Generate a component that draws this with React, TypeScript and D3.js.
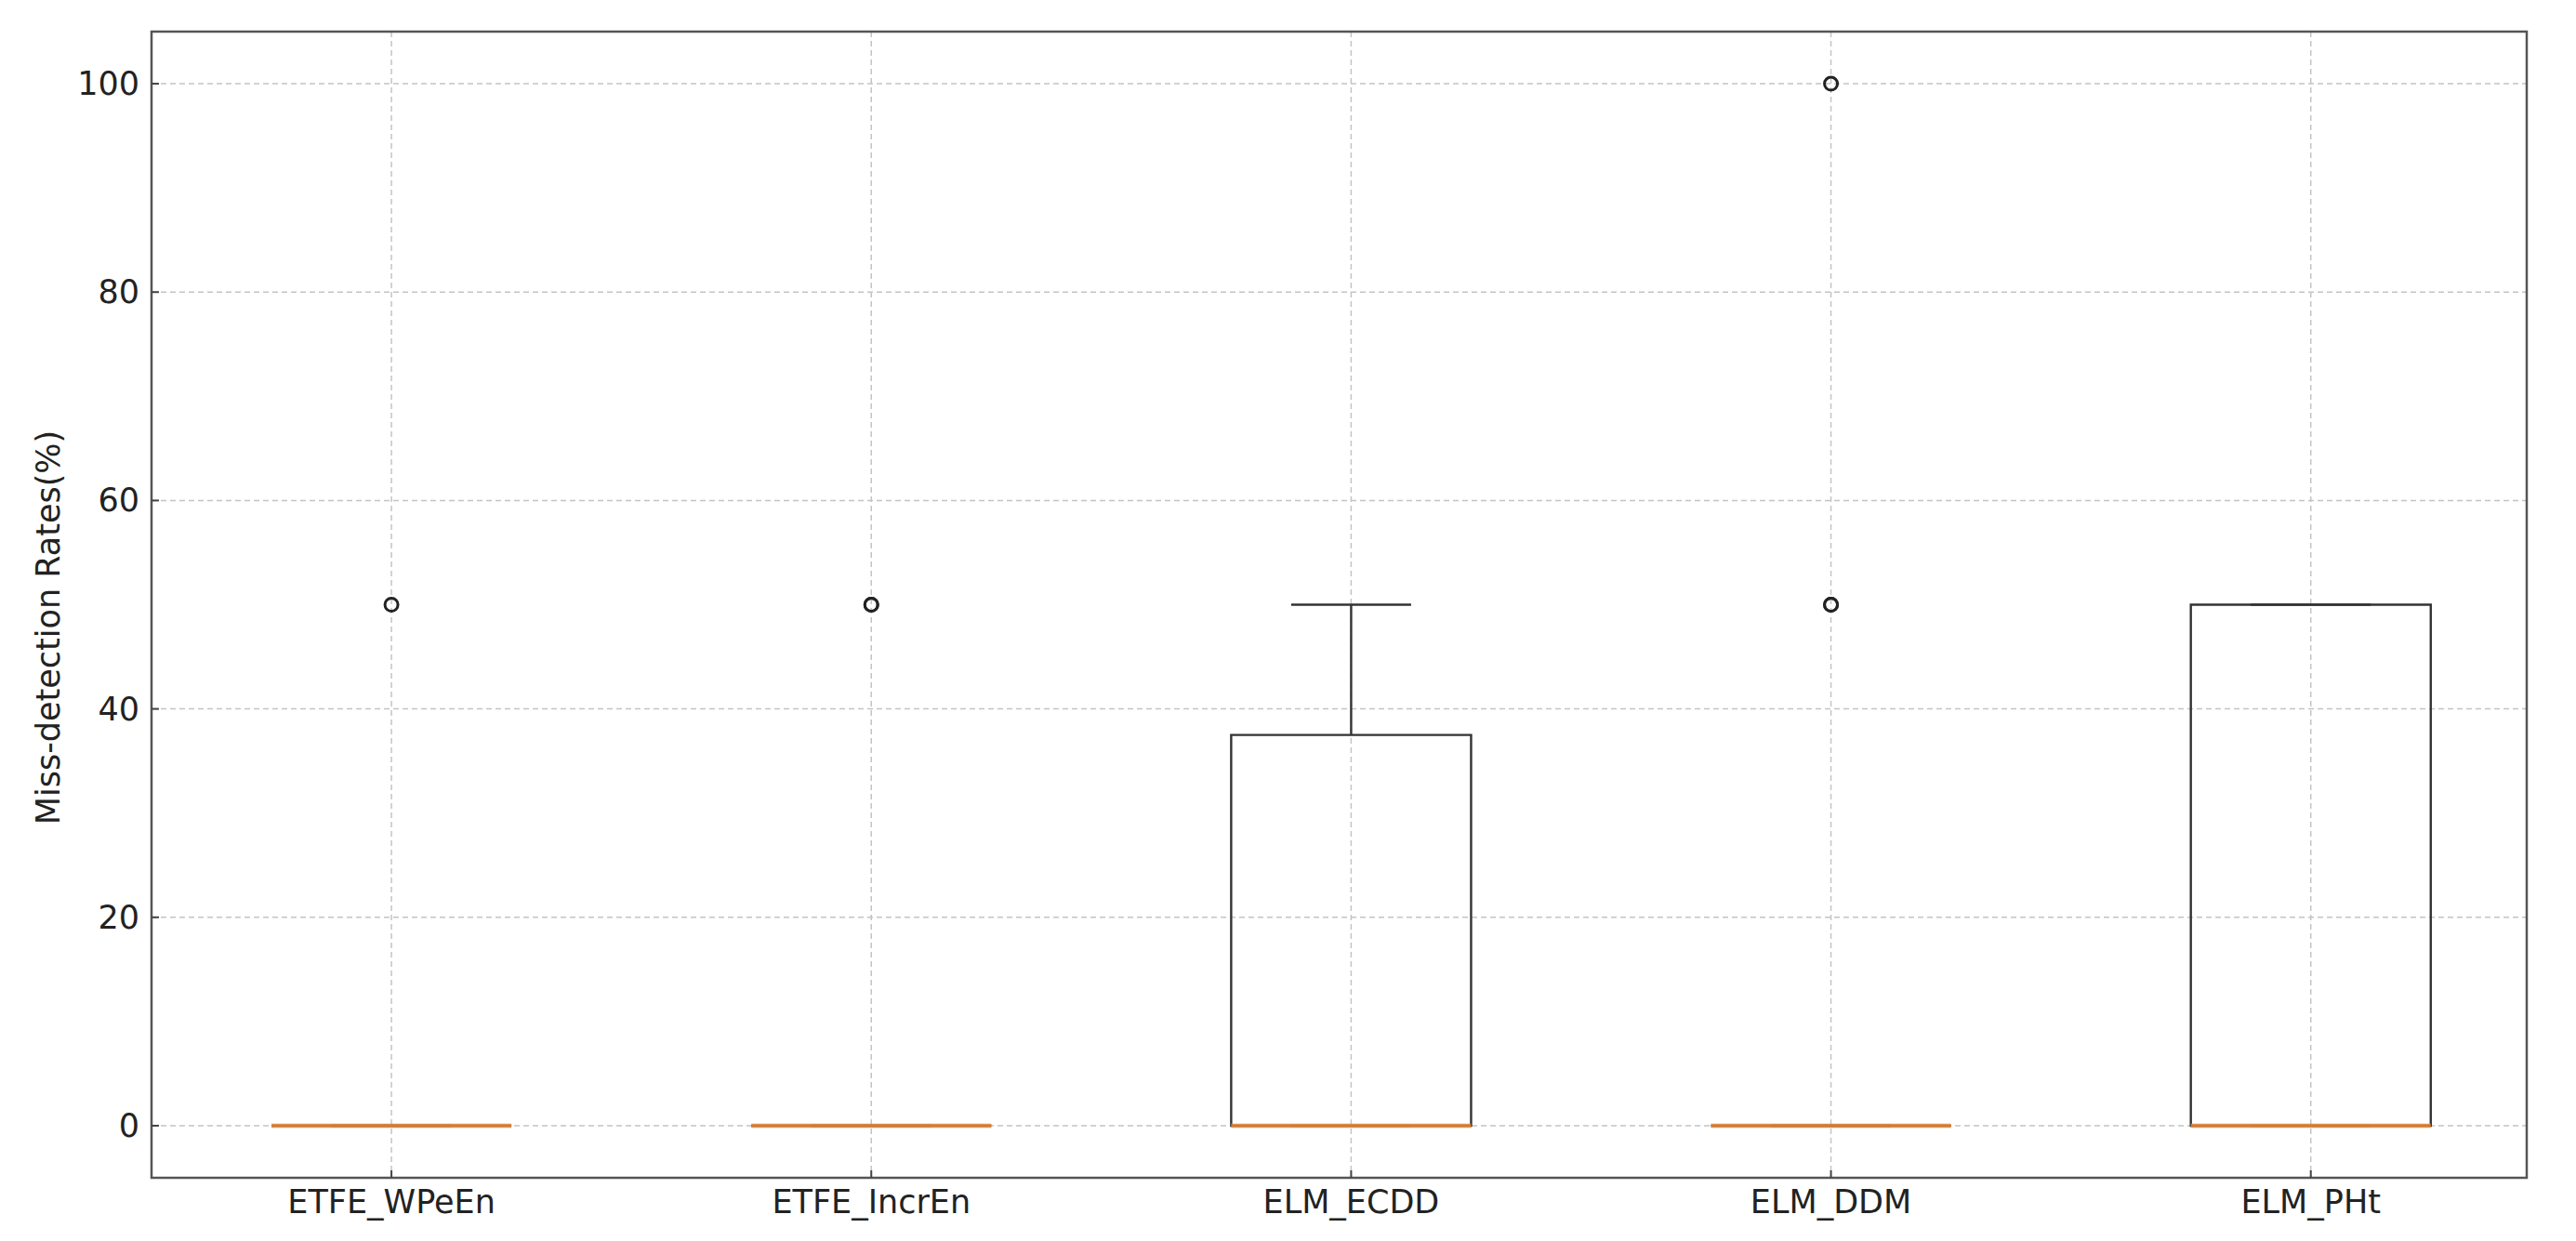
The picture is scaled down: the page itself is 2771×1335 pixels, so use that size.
import { useEffect, useRef } from "react"
import * as d3 from "d3"

const categories = ["ETFE_WPeEn", "ETFE_IncrEn", "ELM_ECDD", "ELM_DDM", "ELM_PHt"]
const q1 = [0, 0, 0, 0, 0]
const medians = [0, 0, 0, 0, 0]
const q3 = [0, 0, 37.5, 0, 50]
const whiskerLo = [0, 0, 0, 0, 0]
const whiskerHi = [0, 0, 50, 0, 50]
const outliers = [[50], [50, 50], [], [50, 50, 100], []]
const yTicks = [0, 20, 40, 60, 80, 100]

export default function App() {
    const ref = useRef<SVGSVGElement>(null)

    useEffect(() => {
        document.body.style.margin = "0"
        const width = 2771
        const height = 1335
        const plot = { left: 163, right: 2718, top: 34, bottom: 1267 }
        const font = "'DejaVu Sans', sans-serif"
        const lineColor = "#333"
        const boxWidth = 0.5

        const x = d3.scaleLinear().domain([0.5, 5.45]).range([plot.left, plot.right])
        const y = d3.scaleLinear().domain([-5, 105]).range([plot.bottom, plot.top])
        const positions = categories.map((_, i) => i + 1)
        const half = (x(1 + boxWidth / 2) - x(1))

        const svg = d3.select(ref.current)
        svg.selectAll("*").remove()
        svg.attr("width", width).attr("height", height).style("display", "block")
            .style("background", "#fff")

        // grid
        const grid = svg.append("g")
            .attr("stroke", "#c4c4c4")
            .attr("stroke-width", 1.5)
            .attr("stroke-dasharray", "6,4")
        grid.selectAll("line.gy").data(yTicks).join("line")
            .attr("x1", plot.left).attr("x2", plot.right)
            .attr("y1", d => y(d)).attr("y2", d => y(d))
        grid.selectAll("line.gx").data(positions).join("line")
            .attr("class", "gx")
            .attr("x1", d => x(d)).attr("x2", d => x(d))
            .attr("y1", plot.top).attr("y2", plot.bottom)

        const boxes = svg.append("g")
            .attr("fill", "none")
            .attr("stroke", lineColor)
            .attr("stroke-width", 2.4)

        categories.forEach((_, i) => {
            const cx = x(positions[i])
            // whiskers
            boxes.append("line")
                .attr("x1", cx).attr("x2", cx)
                .attr("y1", y(q3[i])).attr("y2", y(whiskerHi[i]))
            boxes.append("line")
                .attr("x1", cx).attr("x2", cx)
                .attr("y1", y(q1[i])).attr("y2", y(whiskerLo[i]))
            // caps
            boxes.append("line")
                .attr("x1", cx - half / 2).attr("x2", cx + half / 2)
                .attr("y1", y(whiskerHi[i])).attr("y2", y(whiskerHi[i]))
            boxes.append("line")
                .attr("x1", cx - half / 2).attr("x2", cx + half / 2)
                .attr("y1", y(whiskerLo[i])).attr("y2", y(whiskerLo[i]))
            // box
            boxes.append("path")
                .attr("d", `M${cx - half} ${y(q1[i])} V${y(q3[i])} H${cx + half} V${y(q1[i])} Z`)
            // median
            svg.append("line")
                .attr("x1", cx - half).attr("x2", cx + half)
                .attr("y1", y(medians[i])).attr("y2", y(medians[i]))
                .attr("stroke", "#e8893a")
                .attr("stroke-opacity", 0.85)
                .attr("stroke-width", 4.5)
            // fliers
            svg.append("g").selectAll("circle").data(outliers[i]).join("circle")
                .attr("cx", cx).attr("cy", d => y(d))
                .attr("r", 7)
                .attr("fill", "none")
                .attr("stroke", "#222")
                .attr("stroke-width", 3)
        })

        // spines
        svg.append("rect")
            .attr("x", plot.left).attr("y", plot.top)
            .attr("width", plot.right - plot.left).attr("height", plot.bottom - plot.top)
            .attr("fill", "none")
            .attr("stroke", "#555")
            .attr("stroke-width", 2.5)

        // ticks (pointing in)
        const ticks = svg.append("g").attr("stroke", "#444").attr("stroke-width", 2)
        ticks.selectAll("line.ty").data(yTicks).join("line")
            .attr("x1", plot.left).attr("x2", plot.left + 8)
            .attr("y1", d => y(d)).attr("y2", d => y(d))
        ticks.selectAll("line.tx").data(positions).join("line")
            .attr("class", "tx")
            .attr("x1", d => x(d)).attr("x2", d => x(d))
            .attr("y1", plot.bottom).attr("y2", plot.bottom - 8)

        // tick labels
        svg.append("g").selectAll("text").data(yTicks).join("text")
            .attr("x", plot.left - 13)
            .attr("y", d => y(d))
            .attr("text-anchor", "end")
            .attr("dominant-baseline", "central")
            .attr("font-family", font)
            .attr("font-size", 35)
            .attr("fill", "#222")
            .text(d => d)

        svg.append("g").selectAll("text").data(categories).join("text")
            .attr("x", (_, i) => x(positions[i]))
            .attr("y", 1305)
            .attr("text-anchor", "middle")
            .attr("font-family", font)
            .attr("font-size", 35)
            .attr("fill", "#222")
            .text(d => d)

        svg.append("text")
            .attr("transform", `translate(52, 675) rotate(-90)`)
            .attr("text-anchor", "middle")
            .attr("dominant-baseline", "central")
            .attr("font-family", font)
            .attr("font-size", 35)
            .attr("fill", "#222")
            .text("Miss-detection Rates(%)")
    }, [])

    return <svg ref={ref}></svg>
}
